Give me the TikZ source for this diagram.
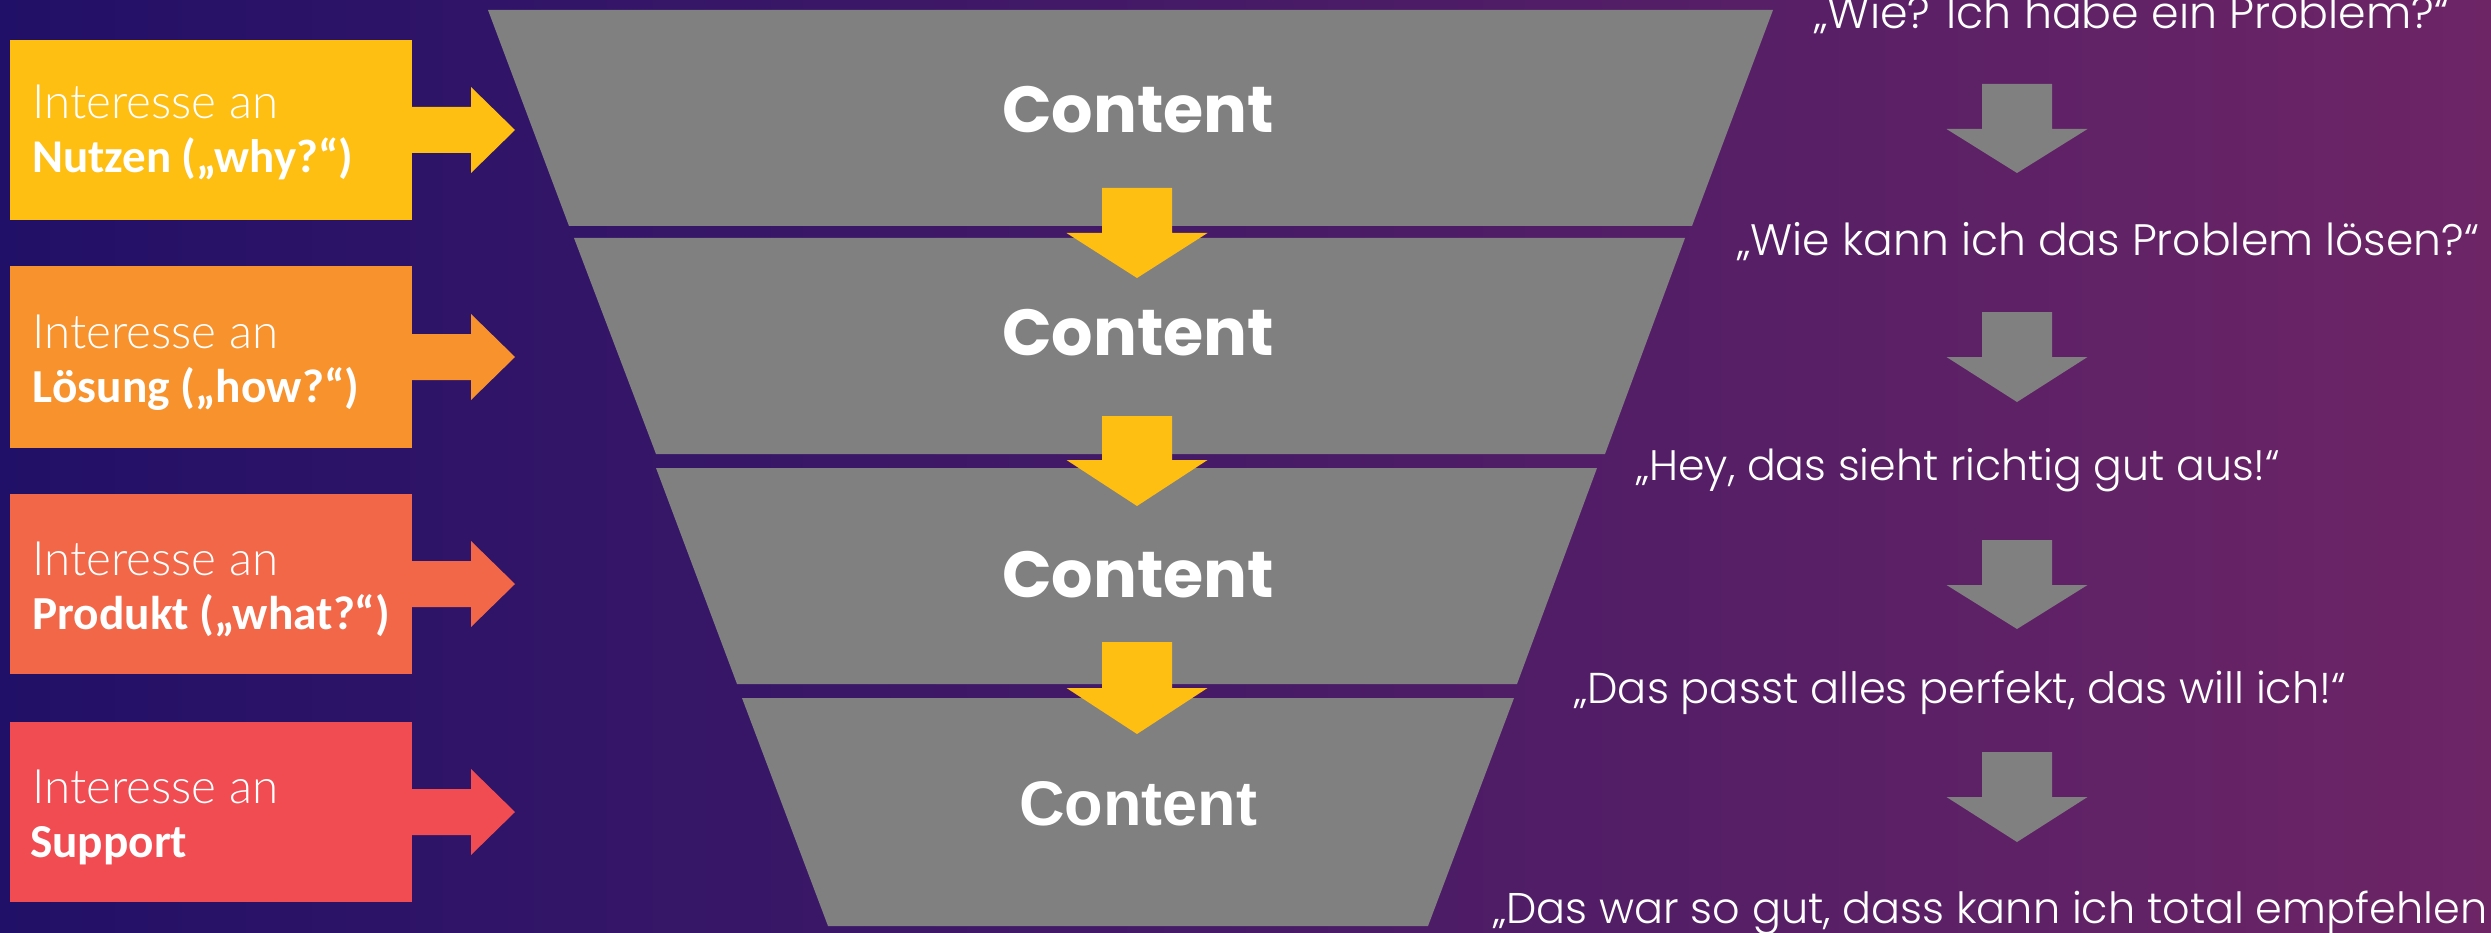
\documentclass[tikz,border=0pt]{standalone}
\usepackage{fontspec}
\usepackage{graphicx}
\IfFontExistsTF{Poppins Light}{\newfontfamily\rtfont{Poppins Light}}{\newfontfamily\rtfont{Poppins}}
\IfFontExistsTF{Lato Light}{\newfontfamily\lightfont{Lato Light}}{\newfontfamily\lightfont{Lato}}
\newfontfamily\boldlfont{Carlito}
\newfontfamily\contfont{Poppins}
\newfontfamily\arialfont{Liberation Sans}
\definecolor{bgL}{HTML}{211067}
\definecolor{bgR}{HTML}{6D2566}
\definecolor{cyel}{HTML}{FEBE12}
\definecolor{corg}{HTML}{F7922D}
\definecolor{ccor}{HTML}{F26747}
\definecolor{cred}{HTML}{F04C51}
\definecolor{cgray}{HTML}{808080}
\newcommand\rblockarrow[3]{% colour, start x, centre y
  \fill[#1] (#2,#3-23) -- (#2+60,#3-23) -- (#2+60,#3-43) -- (#2+104,#3)
    -- (#2+60,#3+43) -- (#2+60,#3+23) -- (#2,#3+23) -- cycle;}
\newcommand\dblockarrow[5]{% colour, centre x, shaft top y, head base y, tip y
  \fill[#1] (#2-35,#3) -- (#2+35,#3) -- (#2+35,#4) -- (#2+70.5,#4) -- (#2,#5)
    -- (#2-70.5,#4) -- (#2-35,#4) -- cycle;}
\tikzset{
  lbox/.style={rectangle, inner sep=0pt, minimum width=402pt, minimum height=180pt, anchor=north west},
  ltext/.style={anchor=base west, inner sep=0pt, text=white},
  rtext/.style={anchor=base west, inner sep=0pt, text=white, font=\rtfont},
  ctext/.style={anchor=base, inner sep=0pt, text=white},
}
\begin{document}
\begin{tikzpicture}[x=1pt,y=-1pt]
\useasboundingbox (0,0) rectangle (2491,933);
\clip (0,0) rectangle (2491,933);
\fill[left color=bgL, right color=bgR] (0,0) rectangle (2491,933);

% funnel
\fill[cgray] (488,10) -- (1773,10) -- (1692,226) -- (569,226) -- cycle;
\fill[cgray] (574,238) -- (1685,238) -- (1605,454) -- (656,454) -- cycle;
\fill[cgray] (656,468) -- (1597,468) -- (1517,684) -- (737,684) -- cycle;
\fill[cgray] (742,698) -- (1514,698) -- (1428,926) -- (828,926) -- cycle;

\node[ctext] (c1) at (1138,133) {\resizebox{272pt}{!}{\contfont\bfseries Content}};
\node[ctext] (c2) at (1138,355) {\resizebox{272pt}{!}{\contfont\bfseries Content}};
\node[ctext] (c3) at (1138,597) {\resizebox{272pt}{!}{\contfont\bfseries Content}};
\node[ctext] (c4) at (1138,825) {\resizebox{238pt}{!}{\arialfont\bfseries Content}};

% yellow down arrows
\dblockarrow{cyel}{1137}{188}{233}{278}
\dblockarrow{cyel}{1137}{416}{460}{506}
\dblockarrow{cyel}{1137}{642}{688}{734}

% left boxes
\node[lbox, fill=cyel] (b1) at (10,40) {};
\node[lbox, fill=corg, minimum height=182pt] (b2) at (10,266) {};
\node[lbox, fill=ccor] (b3) at (10,494) {};
\node[lbox, fill=cred] (b4) at (10,722) {};

\rblockarrow{cyel}{411}{130}
\rblockarrow{corg}{411}{357}
\rblockarrow{ccor}{411}{584}
\rblockarrow{cred}{411}{812}

\node[ltext] (b1a) at (32,119) {\resizebox{246pt}{!}{\lightfont Interesse an}};
\node[ltext] (b1b) at (32,173) {\resizebox{321pt}{!}{\boldlfont\bfseries Nutzen („why?“)}};
\node[ltext] (b2a) at (32,348) {\resizebox{246pt}{!}{\lightfont Interesse an}};
\node[ltext] (b2b) at (32,402) {\resizebox{327pt}{!}{\boldlfont\bfseries Lösung („how?“)}};
\node[ltext] (b3a) at (32,575) {\resizebox{246pt}{!}{\lightfont Interesse an}};
\node[ltext] (b3b) at (32,629) {\resizebox{358pt}{!}{\boldlfont\bfseries Produkt („what?“)}};
\node[ltext] (b4a) at (32,803) {\resizebox{246pt}{!}{\lightfont Interesse an}};
\node[ltext] (b4b) at (30,857) {\resizebox{157pt}{!}{\boldlfont\bfseries Support}};

% right column
\node[rtext] (q1) at (1814,29) {\resizebox{635pt}{!}{„Wie? Ich habe ein Problem?“}};
\node[rtext] (q2) at (1737,255) {\resizebox{742pt}{!}{„Wie kann ich das Problem lösen?“}};
\node[rtext] (q3) at (1636,480) {\resizebox{644pt}{!}{„Hey, das sieht richtig gut aus!“}};
\node[rtext] (q4) at (1574,703) {\resizebox{772pt}{!}{„Das passt alles perfekt, das will ich!“}};
\node[rtext] (q5) at (1493,923) {\resizebox{994pt}{!}{„Das war so gut, dass kann ich total empfehlen}};

\dblockarrow{cgray}{2017}{84}{129}{173}
\dblockarrow{cgray}{2017}{312}{357}{402}
\dblockarrow{cgray}{2017}{540}{585}{629}
\dblockarrow{cgray}{2017}{752}{797}{842}
\end{tikzpicture}
\end{document}
